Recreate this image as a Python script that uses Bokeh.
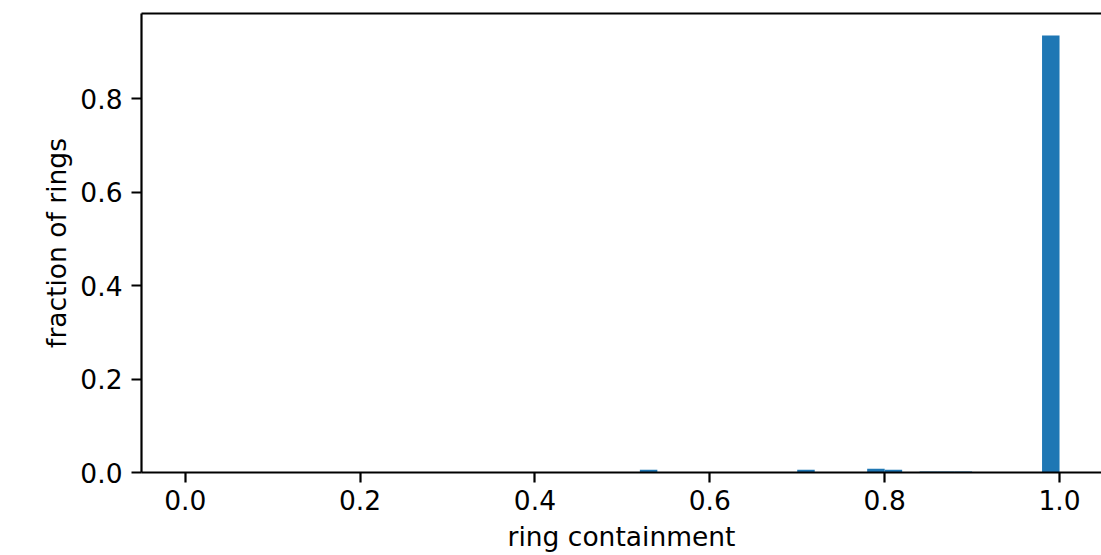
import numpy as np
from bokeh.plotting import figure
from bokeh.models import ColumnDataSource, Range1d, LinearAxis, FixedTicker, PrintfTickFormatter
from bokeh.embed import file_html
from bokeh.resources import INLINE

# histogram bins (0.02 wide from 0 to 1)
bin_left = [round(0.02 * i, 2) for i in range(50)]
bin_right = [round(0.02 * (i + 1), 2) for i in range(50)]
fraction = [
    0, 0, 0, 0, 0, 0, 0, 0, 0, 0,
    0, 0, 0, 0, 0, 0, 0, 0, 0, 0,
    0, 0, 0, 0, 0.001, 0, 0.006, 0, 0, 0,
    0, 0, 0.001, 0, 0.001, 0.006, 0.001, 0.001, 0, 0.008,
    0.006, 0, 0.002, 0.002, 0.002, 0, 0.001, 0, 0, 0.935,
]
x_ticks = [0.0, 0.2, 0.4, 0.6, 0.8, 1.0]
y_ticks = [0.0, 0.2, 0.4, 0.6, 0.8]

src = ColumnDataSource(dict(left=bin_left, right=bin_right, top=fraction,
                            bottom=[0] * len(fraction)))

FONT = "DejaVu Sans"
p = figure(width=1101, height=555, output_backend="svg", toolbar_location=None,
           x_range=Range1d(-0.05, (1101 - 184) / 875), y_range=Range1d(0, 0.982),
           x_axis_location=None, y_axis_location=None,
           min_border_left=141, min_border_right=0, min_border_top=13, min_border_bottom=83)
p.outline_line_color = None
p.grid.visible = False
p.background_fill_color = "white"
p.border_fill_color = "white"

p.quad(left="left", right="right", top="top", bottom="bottom", source=src,
       fill_color="#1f77b4", line_color=None)

def style(ax, label, label_standoff, tick_standoff):
    ax.axis_label = label
    ax.axis_label_text_font = FONT
    ax.axis_label_text_font_size = "26.5px"
    ax.axis_label_text_font_style = "normal"
    ax.axis_label_text_color = "black"
    ax.major_label_text_font = FONT
    ax.major_label_text_font_size = "26.5px"
    ax.major_label_text_color = "black"
    ax.axis_line_color = "black"
    ax.axis_line_width = 2.2
    ax.major_tick_line_color = "black"
    ax.major_tick_line_width = 2.2
    ax.major_tick_in = 0
    ax.major_tick_out = 10
    ax.minor_tick_line_color = None
    ax.major_label_standoff = tick_standoff
    ax.axis_label_standoff = label_standoff
    ax.formatter = PrintfTickFormatter(format="%.1f")

xa = LinearAxis(ticker=FixedTicker(ticks=x_ticks))
style(xa, "ring containment", 8, 7)
p.add_layout(xa, "below")

ya = LinearAxis(ticker=FixedTicker(ticks=y_ticks))
style(ya, "fraction of rings", 5, 9)
p.add_layout(ya, "left")

top = LinearAxis(ticker=FixedTicker(ticks=[]), major_label_text_font_size="0px")
top.axis_line_color = "black"
top.axis_line_width = 2.2
top.major_tick_line_color = None
top.minor_tick_line_color = None
p.add_layout(top, "above")

open("out.html", "w").write(file_html(p, INLINE))
